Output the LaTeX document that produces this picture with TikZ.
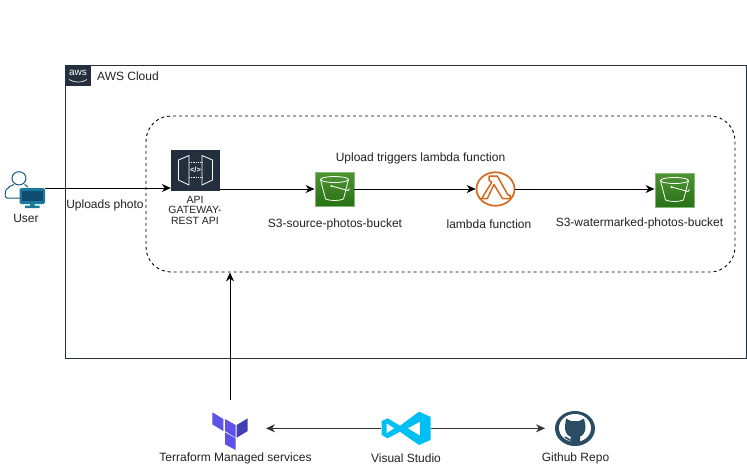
\documentclass[tikz,border=0pt]{standalone}
\usepackage{fontspec}
\setmainfont{Liberation Sans}
\usetikzlibrary{arrows.meta,shapes.geometric}
\definecolor{awsdark}{HTML}{232F3E}
\definecolor{txt}{HTML}{222222}
\definecolor{userblue}{HTML}{1B7A9C}
\definecolor{userdark}{HTML}{0F4C70}
\definecolor{lambdaor}{HTML}{D4691F}
\definecolor{tfl}{HTML}{5F52E6}
\definecolor{tfd}{HTML}{4040B2}
\definecolor{vsblue}{HTML}{00BFF3}
\definecolor{ghblue}{HTML}{2A4D63}
\definecolor{s3t}{HTML}{4F9433}
\definecolor{s3b}{HTML}{277116}
\definecolor{s3e}{HTML}{85B874}
\tikzset{
  flow/.style={draw=black,line width=1pt,-{Stealth[length=9pt,width=8pt]}},
  flowsoft/.style={draw=black!80,line width=1pt,-{Stealth[length=9pt,width=8pt]}},
  lbl/.style={font=\fontsize{12}{13}\selectfont,text=txt,inner sep=0pt,align=center},
  s3box/.style={rectangle,draw=s3e,line width=0.9pt,inner sep=0pt,minimum width=39pt,minimum height=34pt,top color=s3t,bottom color=s3b},
  bucketline/.style={draw=white,line width=0.8pt,line join=round},
  ghost/.style={inner sep=0pt,minimum width=#1,draw=none}
}
\begin{document}
\begin{tikzpicture}[x=1pt,y=-1pt]
\useasboundingbox (0,0) rectangle (747,472);
\fill[white] (0,0) rectangle (747,472);
% cloud
\node[rectangle,draw=awsdark,line width=0.9pt,minimum width=681pt,minimum height=293pt,inner sep=0pt] (cloud) at (405.5,211.5) {};
\node[rectangle,fill=awsdark,minimum width=25pt,minimum height=21pt,inner sep=0pt] (awslogo) at (78,75.5) {};
\node[inner sep=0pt,text=white,font=\fontsize{10}{10}\selectfont] (awsword) at (78,72.5) {aws};
\draw[white,line width=0.6pt] (69,79.5) .. controls (75,83) and (82,83) .. (87,79.5);
\node[lbl,anchor=west] (cloudlbl) at (97,76) {AWS Cloud};
% group
\node[rectangle,draw=black,line width=0.9pt,dash pattern=on 3pt off 3pt,rounded corners=25pt,minimum width=589pt,minimum height=156pt,inner sep=0pt] (group) at (440.5,194) {};
% user
\node[ghost=40pt,minimum height=38pt] (user) at (25,188) {};
\draw[userdark!70!userblue,line width=1pt] (19,178.3) ellipse (7 and 6.6);
\draw[userdark!70!userblue,line width=1pt] (20,198) -- (7,198) .. controls (4.5,198) and (5,192) .. (6,190) .. controls (7.5,187) and (11,186) .. (14,184.5);
\draw[userdark!70!userblue,line width=1pt] (24.5,184.5) -- (28,187);
\fill[userblue,rounded corners=1.5pt] (19.5,188) rectangle (45,204);
\fill[userdark] (22,190.5) rectangle (42.5,201);
\fill[userblue] (30,204) rectangle (34.5,206) (25,205.5) rectangle (39.5,208);
\node[lbl] (userlbl) at (26,218) {User};
% API
\node[rectangle,fill=awsdark,minimum width=49pt,minimum height=41pt,inner sep=0pt] (api) at (195.5,170.5) {};
\begin{scope}[white,line width=0.8pt,line join=round]
\draw (189,155.5) -- (178.5,160) -- (178.5,180) -- (189,185) -- cycle;
\draw (202,155.5) -- (212.5,160) -- (212.5,180) -- (202,185) -- cycle;
\draw[densely dotted] (189,162.5) -- (202,162.5) (189,177.5) -- (202,177.5);
\end{scope}
\node[inner sep=0pt,text=white,font=\fontsize{7.5}{7.5}\selectfont\bfseries] (apicode) at (195.5,170) {</>};
\node[lbl,font=\fontsize{10.5}{10.5}\selectfont] (apilbl) at (195,210) {API\\GATEWAY-\\REST API};
% S3 source
\node[s3box] (s3a) at (334.5,189) {};
\node[lbl] (s3albl) at (335,224) {S3-source-photos-bucket};
% lambda
\node[ellipse,draw=lambdaor,line width=1.7pt,minimum width=38pt,minimum height=33.5pt,inner sep=0pt] (lam) at (495.5,189) {};
\draw[lambdaor,line width=1.5pt,line join=round] (489,176) -- (497.3,176) -- (508,195) -- (510,195) -- (510,198.5) -- (502.5,198.5) -- (494,184.5) -- (487.3,198.5) -- (481.7,198.5) -- (491.7,182.3) -- (489,180) -- cycle;
\node[lbl] (lamlbl) at (489,224) {lambda function};
% S3 watermarked
\node[s3box] (s3b) at (674.5,190) {};
\node[lbl] (s3blbl) at (639.5,223.5) {S3-watermarked-photos-bucket};
\foreach \c in {s3a,s3b}{
  \begin{scope}[shift={(\c)}]
    \draw[bucketline] (0,-9.5) ellipse (14 and 3);
    \draw[bucketline] (-14,-9.5) -- (-9,10) .. controls (-4,12) and (4,12) .. (9,10) -- (14,-9.5);
    \draw[bucketline] (-3,-3) -- (13.5,1.5) -- (15,-0.5);
    \fill[white] (-3,-3) circle (1.1);
  \end{scope}
}
\node[lbl] (trig) at (420.5,158) {Upload triggers lambda function};
\node[lbl] (upl) at (105,205) {Uploads photo};
% flows
\draw[flow] (user.east) -- (api.west |- user.east);
\draw[flow] (api.east |- s3a.west) -- (s3a.west);
\draw[flow] (s3a.east) -- (lam.west);
\draw[flow] (lam.east) -- (s3b.west |- lam.east);
% bottom icons
\node[ghost=36pt,minimum height=34pt] (tf) at (230,428) {};
\fill[tfl] (212.3,412.3) -- (223.3,419) -- (223.3,431) -- (212.3,424.3) -- cycle;
\fill[tfl] (225,419) -- (235.7,425) -- (235.7,437.7) -- (225,431) -- cycle;
\fill[tfd] (236.7,425) -- (247.7,418.3) -- (247.7,431) -- (236.7,437.7) -- cycle;
\fill[tfl] (225,432.3) -- (235.7,438.3) -- (235.7,450) -- (225,444.3) -- cycle;
\node[lbl] (tflbl) at (235.5,458) {Terraform Managed services};
\node[ghost=50pt,minimum height=32pt] (vs) at (406,428.3) {};
\fill[vsblue,even odd rule] (381.7,421) -- (387.7,418.3) -- (400,425.7) -- (419,411.7) -- (430.5,416.7) -- (430.5,440) -- (419,445) -- (400,431.7) -- (387.7,438.3) -- (381.7,435) -- cycle
  (386.7,423.3) -- (394.3,428.3) -- (386.7,433.3) -- cycle
  (407.7,428.3) -- (420,421.7) -- (420,435.7) -- cycle;
\node[lbl] (vslbl) at (406,458) {Visual Studio};
\node[ellipse,fill=ghblue,minimum width=40pt,minimum height=35pt,inner sep=0pt] (gh) at (575,428.5) {};
\fill[white] (575,428) ellipse (16 and 14);
\fill[ghblue] (566,418.5) -- (571,421) -- (579,421) -- (584,418.5) -- (585.5,426) .. controls (586,433) and (582,436) .. (580,436.5) -- (580,445) -- (570.5,445) -- (570.5,436.5) .. controls (568,436) and (564.5,433) .. (565,426) -- cycle;
\draw[ghblue,line width=1.6pt] (565,437) -- (570.5,440.5);
\coordinate (tfend) at (266,428.3);
\coordinate (ghend) at (545,428.3);
\draw[flowsoft] (vs.west) -- (tfend);
\draw[flowsoft] (vs.east) -- (ghend);
\coordinate (upst) at (230,400);
\draw[flow] (upst) -- (group.south -| upst);
\node[lbl] (ghlbl) at (575.5,458) {Github Repo};
\end{tikzpicture}
\end{document}
